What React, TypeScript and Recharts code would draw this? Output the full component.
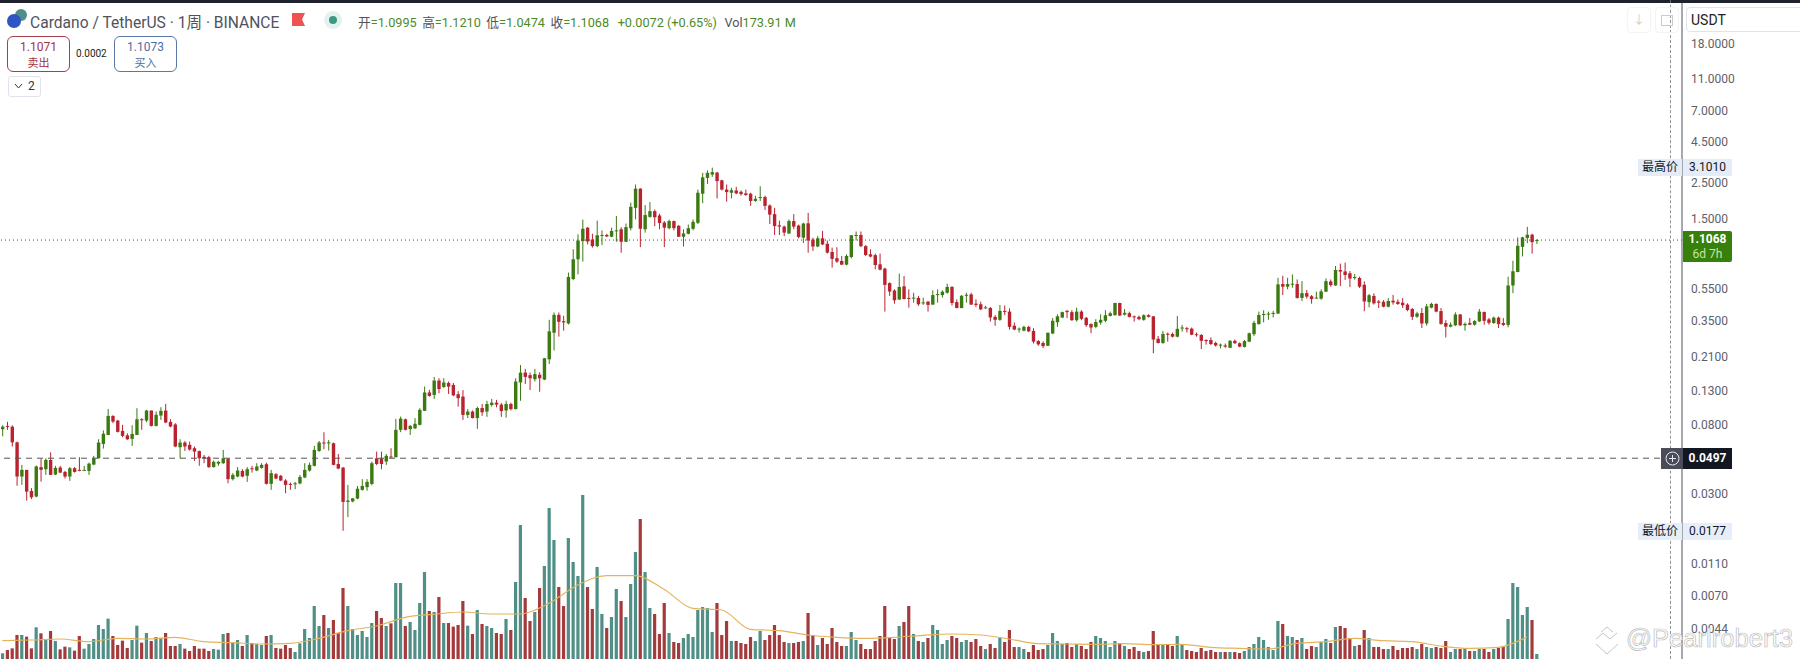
import { Bar, Cell, ComposedChart, Line, ReferenceLine, XAxis, YAxis } from "recharts";

const opens = [
  .0751,.0785,.0778,.0623,.0383,.0421,.0312,.0288,.0438,.0425,
  .0485,.0394,.0435,.0409,.0383,.0431,.0421,.0417,.0415,.0454,
  .0497,.0609,.0692,.0907,.0849,.0733,.0688,.0655,.0692,.0865,
  .0849,.0979,.0787,.0912,.0979,.0833,.0803,.0581,.0621,.0601,
  .0573,.055,.0507,.0504,.0438,.046,.0463,.0492,.0369,.0383,
  .0415,.0387,.0431,.0417,.0433,.0456,.0345,.0396,.0387,.0362,
  .0345,.0345,.0347,.0378,.0417,.0446,.0551,.0621,.0615,.0615,
  .0458,.0435,.0267,.0269,.028,.0317,.0329,.0345,.0497,.0495,
  .0474,.0509,.0504,.0744,.0865,.0752,.076,.0799,.0975,.1266,
  .1223,.15,.137,.145,.141,.1235,.1195,.092,.0965,.088,
  .1015,.0965,.106,.1095,.1065,.098,.1075,.1,.146,.168,
  .162,.153,.163,.152,.203,.296,.382,.349,.338,.636,
  .842,1.09,1.32,1.115,1.015,1.18,1.19,1.16,1.26,1.29,
  1.08,1.31,1.75,2.30,1.29,1.54,1.67,1.57,1.42,1.31,
  1.45,1.355,1.16,1.21,1.30,1.415,2.14,2.68,2.81,2.89,
  2.59,2.27,2.17,2.24,2.2,2.15,2.14,1.93,2.02,2.04,
  1.81,1.60,1.365,1.34,1.215,1.45,1.36,1.145,1.405,1.115,
  1.01,1.135,1.05,.934,.855,.822,.78,.87,1.18,1.19,
  1.015,.904,.893,.784,.737,.60,.54,.475,.573,.486,
  .483,.486,.452,.461,.442,.506,.506,.523,.568,.458,
  .421,.503,.511,.448,.444,.419,.421,.371,.356,.404,
  .40,.327,.311,.305,.322,.304,.263,.256,.246,.293,
  .344,.368,.404,.397,.354,.40,.366,.335,.322,.342,
  .351,.376,.38,.452,.383,.391,.374,.371,.356,.38,
  .374,.272,.256,.292,.291,.28,.316,.316,.314,.29,
  .287,.267,.267,.256,.247,.247,.239,.264,.255,.242,
  .261,.29,.335,.381,.385,.387,.389,.592,.57,.589,
  .592,.486,.52,.498,.483,.481,.531,.614,.58,.723,
  .708,.69,.645,.645,.586,.458,.50,.462,.46,.429,
  .467,.46,.454,.442,.415,.372,.392,.338,.423,.446,
  .403,.34,.323,.329,.384,.329,.34,.332,.348,.398,
  .358,.34,.367,.34,.331,.58,.703,1.005,1.14,1.195,
  1.0995,
];

const closes = [
  .0778,.0774,.0623,.0383,.0421,.0309,.0285,.0442,.0421,.0485,
  .0392,.0433,.0405,.0383,.0431,.0409,.0417,.0421,.046,.0497,
  .0621,.0704,.0907,.0837,.0723,.0683,.0651,.0702,.0865,.0857,
  .0979,.0787,.0921,.0975,.0826,.078,.0587,.0621,.0587,.0562,
  .0546,.0497,.0497,.0438,.0472,.0472,.0497,.0369,.0392,.0417,
  .0383,.0425,.0429,.0442,.0452,.0345,.0402,.0372,.0362,.034,
  .0342,.0348,.0381,.0421,.0452,.0559,.0621,.0615,.0623,.0452,
  .0429,.0267,.0272,.0281,.0322,.0335,.0355,.0463,.0458,.0458,
  .0514,.0504,.0744,.0873,.0744,.0787,.0811,.0989,.1266,.1205,
  .15,.133,.146,.1375,.1215,.1168,.092,.0965,.088,.1015,
  .0955,.1075,.1095,.1065,.0972,.1075,.1,.148,.168,.158,
  .155,.1645,.155,.206,.302,.382,.346,.343,.655,.842,
  1.10,1.30,1.085,1.015,1.185,1.19,1.165,1.26,1.27,1.08,
  1.33,1.775,2.30,1.30,1.58,1.67,1.53,1.41,1.32,1.45,
  1.31,1.16,1.215,1.31,1.435,2.17,2.70,2.88,2.91,2.56,
  2.27,2.19,2.25,2.15,2.13,2.10,1.93,1.99,2.04,1.80,
  1.59,1.35,1.34,1.23,1.45,1.34,1.155,1.40,1.10,1.01,
  1.135,1.04,.926,.847,.815,.78,.883,1.185,1.19,1.015,
  .895,.875,.776,.726,.585,.532,.47,.568,.478,.481,
  .488,.444,.456,.44,.506,.513,.531,.568,.452,.421,
  .501,.508,.442,.44,.413,.425,.368,.356,.404,.40,
  .322,.31,.314,.322,.302,.261,.251,.245,.296,.351,
  .374,.397,.397,.354,.40,.361,.33,.319,.345,.356,
  .38,.391,.452,.378,.393,.371,.371,.359,.38,.371,
  .269,.256,.291,.29,.28,.313,.319,.311,.288,.287,
  .264,.263,.252,.247,.25,.243,.264,.255,.243,.263,
  .294,.341,.381,.387,.389,.393,.589,.57,.592,.595,
  .486,.52,.495,.478,.488,.533,.617,.583,.723,.707,
  .673,.64,.654,.57,.462,.505,.45,.454,.429,.465,
  .456,.446,.438,.409,.371,.39,.338,.431,.446,.40,
  .336,.323,.332,.384,.329,.336,.332,.35,.40,.351,
  .341,.367,.335,.331,.58,.71,1.02,1.15,1.195,1.075,
  1.1068,
];

const highs = [
  .0795,.0834,.0795,.063,.0452,.0421,.0325,.0448,.0492,.0497,
  .054,.0446,.0446,.0415,.0438,.0438,.0504,.0446,.0467,.0514,
  .0651,.0738,.1,.0916,.0857,.0799,.0709,.0795,.1012,.0878,
  .0989,.0979,.0966,.1027,.1077,.0865,.0818,.0651,.0635,.063,
  .0587,.0554,.0521,.0514,.0481,.0478,.0559,.0497,.0402,.0438,
  .0425,.0438,.0446,.0463,.0463,.0467,.0421,.0402,.0392,.0369,
  .0352,.0355,.0392,.0463,.0467,.0592,.0635,.0719,.0645,.0621,
  .0528,.0438,.034,.0281,.0335,.0369,.0369,.0474,.0546,.0546,
  .0528,.0573,.087,.0899,.0873,.0799,.0878,.1012,.1377,.1313,
  .158,.155,.155,.148,.145,.129,.131,.1,.098,.1035,
  .1075,.1125,.1155,.114,.109,.1125,.1095,.155,.187,.177,
  .168,.177,.169,.207,.356,.395,.395,.377,.697,.97,
  1.2,1.48,1.33,1.21,1.46,1.27,1.21,1.32,1.56,1.33,
  1.40,1.885,2.44,2.31,1.82,1.90,1.71,1.61,1.45,1.48,
  1.46,1.37,1.29,1.38,1.485,2.27,2.88,2.98,3.101,2.92,
  2.61,2.44,2.33,2.36,2.24,2.27,2.17,2.08,2.38,2.08,
  1.84,1.75,1.46,1.36,1.485,1.60,1.38,1.415,1.63,1.145,
  1.17,1.26,1.10,.994,1.0,.883,.904,1.19,1.25,1.25,
  1.03,.97,.913,.913,.748,.607,.55,.687,.663,.549,
  .523,.50,.488,.465,.541,.549,.541,.595,.575,.476,
  .506,.523,.523,.476,.461,.434,.427,.381,.44,.436,
  .419,.343,.319,.327,.327,.316,.267,.262,.297,.365,
  .385,.40,.41,.408,.423,.408,.371,.338,.359,.385,
  .408,.40,.454,.454,.415,.40,.378,.378,.385,.385,
  .376,.283,.304,.297,.297,.376,.331,.322,.319,.297,
  .29,.27,.277,.261,.254,.254,.267,.269,.258,.267,
  .297,.351,.40,.408,.40,.404,.647,.666,.647,.679,
  .632,.617,.544,.506,.531,.549,.641,.632,.765,.792,
  .803,.712,.683,.657,.615,.514,.519,.471,.471,.485,
  .507,.476,.485,.45,.421,.399,.421,.446,.454,.45,
  .421,.354,.343,.396,.387,.343,.365,.354,.415,.40,
  .365,.373,.373,.365,.657,.825,1.15,1.16,1.336,1.21,
  1.121,
];

const lows = [
  .0679,.0744,.0587,.0336,.034,.0272,.0278,.0285,.0356,.0392,
  .0392,.0392,.0402,.0372,.036,.0405,.0413,.0415,.0392,.045,
  .0495,.057,.069,.0818,.0716,.0669,.0645,.0592,.069,.0744,
  .083,.078,.078,.0857,.0818,.0772,.0581,.0497,.0551,.0554,
  .0478,.0446,.0463,.0433,.0435,.0446,.0458,.0348,.0362,.0379,
  .0379,.0355,.0405,.0413,.0429,.0342,.0317,.0369,.0358,.0302,
  .0317,.032,.0343,.0374,.0411,.0442,.0544,.0565,.0554,.045,
  .0425,.0177,.0215,.0265,.0277,.0313,.0313,.0338,.045,.0425,
  .0452,.0502,.0502,.072,.0738,.0692,.0752,.0792,.0973,.1194,
  .1155,.1252,.135,.124,.12,.1035,.0857,.088,.0875,.0755,
  .0908,.0895,.1035,.1025,.0895,.0885,.098,.0995,.1125,.143,
  .131,.148,.128,.151,.19,.23,.28,.305,.333,.625,
  .68,.815,1.04,.994,1.0,1.03,1.155,1.155,1.08,.925,
  1.075,1.27,1.485,1.0,1.23,1.52,1.35,1.29,1.0,1.29,
  1.27,1.155,1.01,1.20,1.27,1.39,1.87,2.46,2.72,2.0,
  2.24,1.91,2.0,2.12,2.08,2.08,1.80,1.91,1.93,1.70,
  1.39,1.19,1.19,1.17,1.21,1.29,1.135,1.06,.925,.948,
  1.0,1.03,.913,.748,.80,.776,.772,.853,1.10,1.0,
  .883,.866,.73,.72,.40,.50,.448,.472,.478,.423,
  .454,.434,.44,.40,.44,.454,.488,.516,.436,.419,
  .419,.454,.44,.427,.408,.417,.347,.327,.351,.38,
  .31,.307,.297,.302,.299,.254,.246,.238,.245,.29,
  .322,.365,.365,.351,.347,.354,.322,.294,.316,.332,
  .344,.373,.378,.376,.378,.368,.347,.354,.351,.368,
  .221,.254,.253,.261,.277,.277,.301,.297,.286,.28,
  .235,.25,.249,.243,.237,.239,.238,.253,.241,.24,
  .259,.283,.332,.343,.356,.368,.387,.506,.549,.562,
  .481,.465,.481,.448,.481,.474,.528,.57,.578,.575,
  .628,.568,.63,.56,.402,.425,.442,.421,.425,.425,
  .442,.44,.421,.402,.355,.366,.317,.328,.419,.396,
  .332,.277,.32,.326,.326,.305,.33,.328,.345,.332,
  .332,.336,.317,.326,.32,.52,.70,.877,1.06,.912,
  1.0474,
];

// volume in millions
const volumes = [
  198,315,373,840,840,782,373,1109,899,665,
  980,630,338,432,408,292,805,362,525,700,
  1190,1050,1412,805,490,642,385,665,1167,572,
  910,630,770,724,910,455,455,525,362,280,
  455,362,362,280,350,327,875,910,560,665,
  455,840,560,525,490,805,840,385,362,490,
  385,245,548,1050,735,1855,1155,1540,1085,1365,
  910,2486,1855,1050,840,980,770,1260,1680,1435,
  1155,1249,2660,2660,1155,1295,1015,1960,3046,1680,
  1645,2170,1260,1260,1132,1190,2031,1167,875,1715,
  1225,1155,1085,910,875,1400,1015,2696,4691,2136,
  1330,1645,2486,3256,5286,4166,2521,1855,4236,3396,
  2906,5742,2521,1750,3221,1575,1085,1470,2451,2031,
  1470,2626,3746,4901,3046,1786,1575,875,1961,910,
  595,560,735,875,770,1715,1820,1786,945,1961,
  840,1330,630,630,560,525,770,630,980,665,
  840,1190,840,595,560,560,595,630,1610,840,
  490,735,525,1085,595,455,455,945,665,525,
  350,350,630,805,1855,735,700,1155,1295,1855,
  875,630,595,735,1190,1015,525,665,805,735,
  595,665,595,700,455,350,525,385,735,595,
  1015,420,420,350,245,490,315,350,490,910,
  630,525,560,420,525,455,350,595,805,735,
  630,420,630,560,455,350,420,280,245,280,
  980,490,490,502,455,805,490,315,280,245,
  385,280,315,245,245,245,245,245,210,280,
  420,525,770,665,420,315,1330,1225,805,770,
  665,735,350,455,420,595,700,560,1120,1155,
  1085,735,455,490,1015,735,420,420,350,350,
  455,315,385,385,420,350,525,420,385,420,
  385,630,245,350,350,385,280,280,350,350,
  245,350,385,420,1400,2661,2521,1540,1820,1365,
  174,
];

// volume moving average at every 6th week
const maReadings = [
  642,665,700,607,724,700,759,607,572,525,
  548,724,992,1155,1459,1564,1645,1575,1575,1949,
  2591,2917,2917,2439,1774,1715,1039,992,840,759,
  724,759,829,875,840,700,537,525,513,537,
  502,513,408,373,350,548,607,723,642,607,
  455,373,408,770,
];

const priceTicks = [18, 11, 7, 4.5, 2.5, 1.5, 0.55, 0.35, 0.21, 0.13, 0.08, 0.03, 0.011, 0.007, 0.0044];
const lastPrice = 1.1068;
const alertPrice = 0.0497;

const rows = closes.map((close, i) => ({
  week: i,
  open: opens[i],
  close,
  high: highs[i],
  low: lows[i],
  volume: volumes[i],
  ma: i % 6 === 0 ? maReadings[i / 6] : null,
}));

const GREEN = "#3a7a10";
const RED = "#b8232f";
const FONT = "Roboto, 'Noto Sans CJK SC', sans-serif";

function Candle(props: any) {
  const { x, y, width, height, payload } = props;
  const span = Math.log(payload.high / payload.low) || 1;
  const yOf = (p: number) => y + (height * Math.log(payload.high / p)) / span;
  const color = payload.close >= payload.open ? GREEN : RED;
  const top = yOf(Math.max(payload.open, payload.close));
  const bottom = yOf(Math.min(payload.open, payload.close));
  const mid = x + width / 2;
  return (
    <g>
      <line x1={mid} x2={mid} y1={y} y2={y + height} stroke={color} strokeWidth={1} />
      <rect x={x} y={top} width={width} height={Math.max(bottom - top, 1)} fill={color} />
    </g>
  );
}

function Tag(props: { x: number; y: number; w: number; h: number; bg: string; color?: string; bold?: boolean; children: any }) {
  const { x, y, w, h, bg, color, bold, children } = props;
  return (
    <div
      style={{
        position: "absolute", left: x, top: y, width: w, height: h, lineHeight: h + "px", background: bg,
        color: color ?? "#131722", fontSize: 12, fontWeight: bold ? 700 : 400, textAlign: "center",
      }}
    >
      {children}
    </div>
  );
}

function Header() {
  const label = { color: "#50535e" };
  const num = { color: "#4d8a26", marginRight: 5.5 };
  return (
    <>
      <div style={{ position: "absolute", left: 0, top: 0, width: 1800, height: 3, background: "#1e222d" }} />
      <svg style={{ position: "absolute", left: 6, top: 8 }} width={22} height={22}>
        <circle cx={15} cy={7} r={6} fill="#4f8f8a" />
        <circle cx={8} cy={13} r={7} fill="#2f55c4" />
      </svg>
      <div style={{ position: "absolute", left: 30, top: 10, fontSize: 15.6, color: "#50535e", whiteSpace: "nowrap" }}>
        Cardano / TetherUS · 1周 · BINANCE
      </div>
      <svg style={{ position: "absolute", left: 292, top: 13 }} width={14} height={14}>
        <path d="M0 0H13L10 6.5L13 13H0Z" fill="#ef5350" />
      </svg>
      <svg style={{ position: "absolute", left: 323, top: 10 }} width={20} height={20}>
        <circle cx={10} cy={10} r={9} fill="#e4f2ed" />
        <circle cx={10} cy={10} r={4} fill="#3b9a82" />
      </svg>
      <div style={{ position: "absolute", left: 358, top: 12, fontSize: 12.7, whiteSpace: "nowrap" }}>
        <span style={label}>开</span><span style={num}>=1.0995</span>
        <span style={label}>高</span><span style={num}>=1.1210</span>
        <span style={label}>低</span><span style={num}>=1.0474</span>
        <span style={label}>收</span><span style={num}>=1.1068</span>
        <span style={{ ...num, marginLeft: 3 }}>+0.0072 (+0.65%)</span>
        <span style={{ ...label, marginLeft: 2 }}>Vol</span><span style={num}>173.91 M</span>
      </div>

      <div style={{ position: "absolute", left: 7, top: 36, width: 61, height: 34, border: "1px solid #a5404a", borderRadius: 6, textAlign: "center", color: "#a5323e" }}>
        <div style={{ fontSize: 12, marginTop: 3 }}>1.1071</div>
        <div style={{ fontSize: 11 }}>卖出</div>
      </div>
      <div style={{ position: "absolute", left: 76, top: 48, fontSize: 10, color: "#222" }}>0.0002</div>
      <div style={{ position: "absolute", left: 114, top: 36, width: 61, height: 34, border: "1px solid #5a77a8", borderRadius: 6, textAlign: "center", color: "#4f6da5" }}>
        <div style={{ fontSize: 12, marginTop: 3 }}>1.1073</div>
        <div style={{ fontSize: 11 }}>买入</div>
      </div>
      <div style={{ position: "absolute", left: 8, top: 76, width: 31, height: 19, border: "1px solid #e0e3eb", borderRadius: 3, fontSize: 12, color: "#333", lineHeight: "19px" }}>
        <svg style={{ position: "absolute", left: 5, top: 6 }} width={9} height={7}>
          <path d="M1 1L4.5 5L8 1" fill="none" stroke="#333" strokeWidth={1} />
        </svg>
        <span style={{ position: "absolute", left: 19 }}>2</span>
      </div>
    </>
  );
}

function RightSide() {
  return (
    <>
      <div style={{ position: "absolute", left: 1670, top: 0, height: 659, borderLeft: "1px dashed #777", opacity: 0.8 }} />
      <div style={{ position: "absolute", left: 1627, top: 7, width: 22, height: 24, border: "1px solid #f4f4f6", borderRadius: 4, color: "#ccc", fontSize: 12, textAlign: "center", lineHeight: "24px" }}>↓</div>
      <div style={{ position: "absolute", left: 1655, top: 7, width: 22, height: 24, border: "1px solid #f4f4f6", borderRadius: 4 }} />
      <div style={{ position: "absolute", left: 1661, top: 15, width: 10, height: 9, border: "1px solid #ccc" }} />
      <div style={{ position: "absolute", left: 1686, top: 7, width: 120, height: 25, border: "1px solid #e0e3eb", borderRadius: 4, fontSize: 14, color: "#222", lineHeight: "25px", paddingLeft: 4, boxSizing: "border-box" }}>USDT</div>

      <Tag x={1638} y={159} w={44} h={17} bg="#e4ecf8">最高价</Tag>
      <Tag x={1683} y={159} w={49} h={17} bg="#e4ecf8">3.1010</Tag>
      <Tag x={1638} y={523} w={44} h={17} bg="#e6eef9">最低价</Tag>
      <Tag x={1683} y={523} w={49} h={17} bg="#e6eef9">0.0177</Tag>

      <div style={{ position: "absolute", left: 1683, top: 231, width: 49, height: 31, background: "#37800a", borderRadius: "0 2px 2px 0", textAlign: "center" }}>
        <div style={{ fontSize: 12, fontWeight: 700, color: "#fff", lineHeight: "16px" }}>1.1068</div>
        <div style={{ fontSize: 12, color: "#c4e5a6", lineHeight: "14px" }}>6d 7h</div>
      </div>

      <div style={{ position: "absolute", left: 1661, top: 448, width: 22, height: 21, background: "#4a4d57" }} />
      <svg style={{ position: "absolute", left: 1664, top: 450 }} width={17} height={17}>
        <circle cx={8.5} cy={8.5} r={6.5} fill="none" stroke="#e8e8ec" strokeWidth={1} />
        <path d="M8.5 5V12M5 8.5H12" stroke="#e8e8ec" strokeWidth={1} />
      </svg>
      <Tag x={1683} y={448} w={49} h={21} bg="#131722" color="#fff" bold>0.0497</Tag>

      <svg style={{ position: "absolute", left: 1590, top: 620 }} width={210} height={39}>
        <path d="M6 19L13 13L20 19L27 13M6 24L17 34L28 24M11 12L17 7L23 12" fill="none" stroke="#c4c4c4" strokeWidth={1} />
        <text x={36} y={27} fontSize={26} fontFamily="'Liberation Sans', sans-serif" fill="#fff" stroke="#bcbcbc" strokeWidth={0.7} textLength={167} lengthAdjust="spacingAndGlyphs">
          @Pearlrobert3
        </text>
      </svg>
    </>
  );
}

export default function App() {
  return (
    <div style={{ position: "absolute", left: 0, top: 0, width: 1800, height: 659, overflow: "hidden", background: "#fff", fontFamily: FONT }}>
      <ComposedChart width={1800} height={659} data={rows} margin={{ top: 0, right: 0, bottom: 0, left: 0 }}>
        <XAxis xAxisId="vol" dataKey="week" hide padding={{ left: 0, right: 143 }} />
        <XAxis xAxisId="price" dataKey="week" hide padding={{ left: 0, right: 143 }} />
        <YAxis yAxisId="vol" hide domain={[0, 23065]} allowDataOverflow />
        <YAxis
          yAxisId="price"
          orientation="right"
          width={118}
          type="number"
          scale="log"
          domain={[0.002857, 33.66]}
          allowDataOverflow
          ticks={priceTicks}
          interval={0}
          tickFormatter={(v: number) => v.toFixed(4)}
          tick={{ fill: "#5d606b", fontSize: 12, fontFamily: FONT }}
          tickLine={false}
          tickMargin={3}
          axisLine={{ stroke: "#50535e" }}
        />
        <ReferenceLine xAxisId="price" yAxisId="price" y={lastPrice} stroke="#2f5f10" strokeDasharray="1 3" />
        <ReferenceLine xAxisId="price" yAxisId="price" y={alertPrice} stroke="#555" strokeDasharray="6 5" />
        <Bar xAxisId="vol" yAxisId="vol" dataKey="volume" barSize={3.2} isAnimationActive={false}>
          {rows.map((r) => (
            <Cell key={r.week} fill={r.close >= r.open ? "#4f8f86" : "#a33a3c"} />
          ))}
        </Bar>
        <Line
          xAxisId="vol"
          yAxisId="vol"
          dataKey="ma"
          type="monotone"
          connectNulls
          dot={false}
          stroke="#e6b35c"
          strokeWidth={1.2}
          isAnimationActive={false}
        />
        <Bar
          xAxisId="price"
          yAxisId="price"
          dataKey={(r: any) => [r.low, r.high]}
          barSize={3.4}
          shape={<Candle />}
          isAnimationActive={false}
        />
      </ComposedChart>
      <Header />
      <RightSide />
    </div>
  );
}
